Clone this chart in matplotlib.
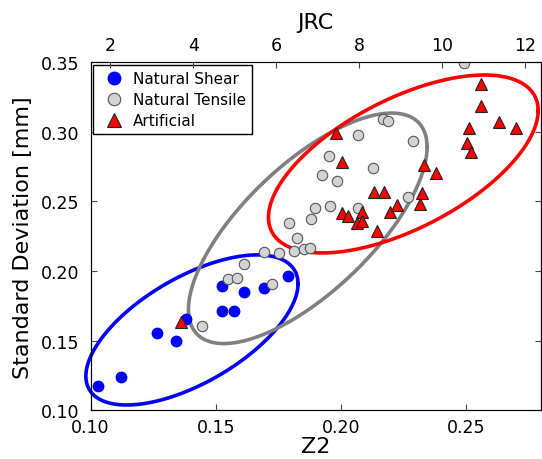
import numpy as np
import matplotlib
matplotlib.use("Agg")
import matplotlib.pyplot as plt

# Z2 / standard deviation readings
shear_z2 = [0.1031, 0.1121, 0.1264, 0.1342, 0.1380, 0.1526, 0.1613, 0.1524,
            0.1574, 0.1692, 0.1787]
shear_sd = [0.1171, 0.1240, 0.1552, 0.1499, 0.1655, 0.1890, 0.1847, 0.1710,
            0.1710, 0.1880, 0.1966]

tensile_z2 = [0.1444, 0.1550, 0.1586, 0.1613, 0.1726, 0.1694, 0.1754, 0.1813,
              0.1852, 0.1876, 0.1825, 0.1791, 0.1879, 0.1896, 0.1958, 0.2070,
              0.1924, 0.1985, 0.1953, 0.2070, 0.2129, 0.2169, 0.2189, 0.2289,
              0.2269, 0.2491]
tensile_sd = [0.1606, 0.1942, 0.1950, 0.2050, 0.1906, 0.2137, 0.2129, 0.2144,
              0.2158, 0.2169, 0.2235, 0.2343, 0.2374, 0.2451, 0.2468, 0.2455,
              0.2691, 0.2650, 0.2825, 0.2978, 0.2740, 0.3094, 0.3079, 0.2933,
              0.2530, 0.3496]

artificial_z2 = [0.1361, 0.1980, 0.2005, 0.2006, 0.2027, 0.2085, 0.2065, 0.2085,
                 0.2144, 0.2134, 0.2172, 0.2198, 0.2225, 0.2318, 0.2326, 0.2331,
                 0.2379, 0.2506, 0.2522, 0.2512, 0.2559, 0.2562, 0.2632, 0.2702]
artificial_sd = [0.1635, 0.2993, 0.2784, 0.2417, 0.2398, 0.2422, 0.2342, 0.2358,
                 0.2286, 0.2568, 0.2566, 0.2422, 0.2477, 0.2482, 0.2561, 0.2765,
                 0.2705, 0.2921, 0.2858, 0.3029, 0.3345, 0.3189, 0.3070, 0.3027]

# group ellipses: centre (Z2, SD), half extents, correlation
ellipse_names = ["shear", "tensile", "artificial"]
ellipse_cx = [0.1405, 0.1868, 0.2250]
ellipse_cy = [0.1576, 0.2307, 0.2770]
ellipse_rx = [0.0424, 0.0477, 0.0539]
ellipse_ry = [0.0540, 0.0829, 0.0640]
ellipse_rho = [0.615, 0.704, 0.600]
ellipse_colors = ["#0000ff", "#808080", "#ff0000"]

jrc_ticks = [2, 4, 6, 8, 10, 12]


def z2_to_jrc(z2):
    return 60.32 * z2 - 4.51


def ellipse_xy(cx, cy, rx, ry, rho, n=300):
    cov = np.array([[rx**2, rho * rx * ry], [rho * rx * ry, ry**2]])
    L = np.linalg.cholesky(cov)
    t = np.linspace(0, 2 * np.pi, n)
    pts = L @ np.vstack([np.cos(t), np.sin(t)])
    return cx + pts[0], cy + pts[1]


plt.rcParams["font.family"] = "DejaVu Sans"

fig = plt.figure(figsize=(5.42, 4.60), dpi=100)
ax = fig.add_axes([0.1672, 0.1065, 0.8308, 0.7555])

for i in range(len(ellipse_names)):
    ex, ey = ellipse_xy(ellipse_cx[i], ellipse_cy[i], ellipse_rx[i],
                        ellipse_ry[i], ellipse_rho[i])
    ax.plot(ex, ey, color=ellipse_colors[i], linewidth=2.6, clip_on=False,
            zorder=2)

ax.plot(shear_z2, shear_sd, "o", color="#0000ff", markeredgecolor="#0000ff",
        markersize=7.5, label="Natural Shear", zorder=3)
ax.plot(tensile_z2, tensile_sd, "o", color="#d3d3d3", markeredgecolor="#555555",
        markeredgewidth=0.8, markersize=7.5, label="Natural Tensile", zorder=3)
ax.plot(artificial_z2, artificial_sd, "^", color="#ff0000",
        markeredgecolor="#222222", markeredgewidth=0.8, markersize=8,
        label="Artificial", zorder=4)

ax.set_xlim(0.10, 0.28)
ax.set_ylim(0.10, 0.35)
ax.set_xticks([0.10, 0.15, 0.20, 0.25])
ax.set_yticks([0.10, 0.15, 0.20, 0.25, 0.30, 0.35])
ax.set_xlabel("Z2", fontsize=16, labelpad=0)
ax.set_ylabel("Standard Deviation [mm]", fontsize=16, labelpad=6)
ax.tick_params(direction="in", length=4, labelsize=12.5, right=True, top=False,
               color="#444444")
ax.tick_params(axis="x", pad=6)
ax.tick_params(axis="y", pad=8)
for spine in ax.spines.values():
    spine.set_color("#444444")

ax2 = ax.twiny()
ax2.set_xlim(z2_to_jrc(0.10), z2_to_jrc(0.28))
ax2.set_xticks(jrc_ticks)
ax2.set_xlabel("JRC", fontsize=16, labelpad=6)
ax2.tick_params(direction="in", length=4, labelsize=12.5, pad=6,
                color="#444444")

leg = ax.legend(loc="upper left", numpoints=1, fontsize=11, fancybox=False,
                edgecolor="black", framealpha=1, borderaxespad=0.15,
                handletextpad=0.2, labelspacing=0.4, markerscale=1.2)
leg.get_frame().set_linewidth(1.0)

fig.savefig("out.png", dpi=100)
